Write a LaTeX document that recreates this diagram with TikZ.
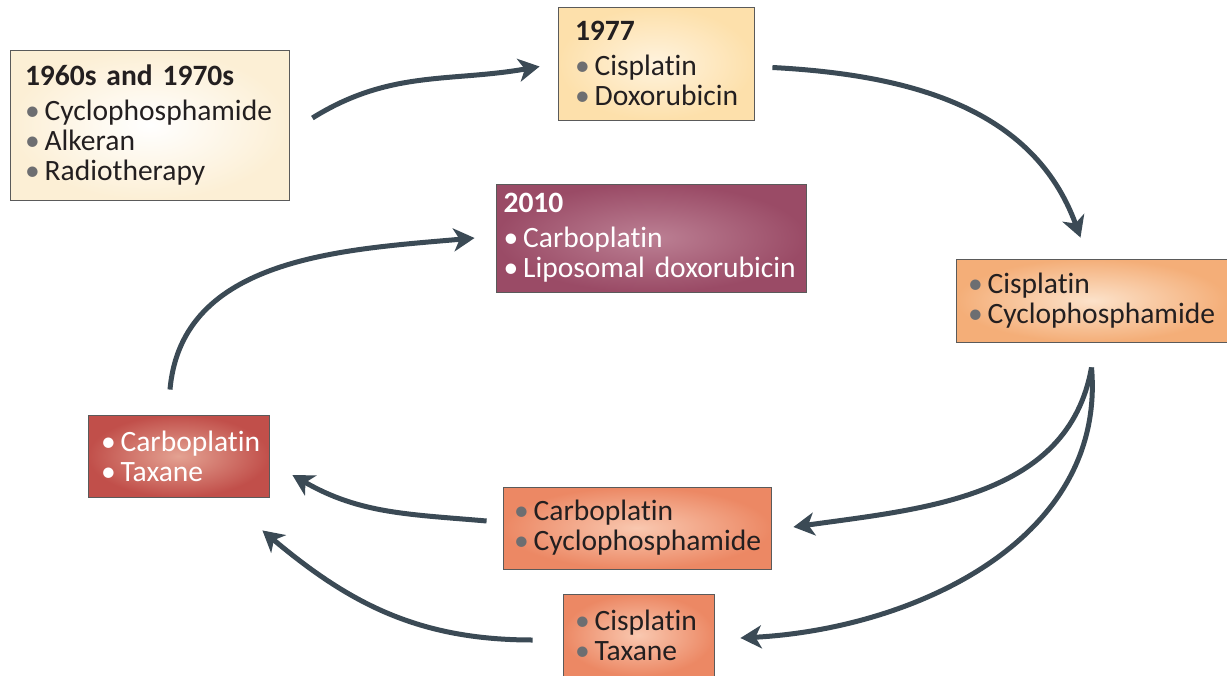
\documentclass[tikz,border=0pt]{standalone}
\usepackage{fontspec}
\setmainfont{Carlito}[Ligatures=NoCommon]
\usepackage{tikz}
\usetikzlibrary{arrows.meta,calc,positioning}

\definecolor{boxline}{HTML}{5A5A5A}
\definecolor{txtdark}{HTML}{231F20}
\definecolor{dotgray}{HTML}{6D6E71}
\definecolor{arrowcol}{HTML}{3B4A55}

\tikzset{
  box/.style={draw=boxline, line width=0.5pt, align=left, inner ysep=0pt,
    font=\fontsize{16.8}{17}\selectfont, text=txtdark},
  flow/.style={draw=arrowcol, line width=0.1cm,
    -{Stealth[length=0.42cm,width=0.46cm,inset=0.12cm]}},
}
\newcommand{\itm}[1]{{\color{dotgray}\textbullet}\,#1}
\newcommand{\itw}[1]{\textbullet\,#1}

\begin{document}
\begin{tikzpicture}[x=0.02cm, y=0.02cm]
    \useasboundingbox (0,0) rectangle (1227,-676);

    % treatment boxes
    \node[box, inner color=white, outer color={rgb,255:red,252;green,239;blue,213},
      text width=4.98cm, inner xsep=0.3cm, minimum height=3cm]
      (early) at (149.5,-125)
      {\textbf{1960s and 1970s}\\[3pt]\itm{Cyclophosphamide}\\\itm{Alkeran}\\\itm{Radiotherapy}};
    \node[box, inner color={rgb,255:red,255;green,243;blue,222}, outer color={rgb,255:red,253;green,224;blue,171},
      text width=3.24cm, inner xsep=0.34cm, minimum height=2.26cm]
      (y1977) at (656,-63.5)
      {\textbf{1977}\\[3pt]\itm{Cisplatin}\\\itm{Doxorubicin}};
    \node[box, text=white, inner color={rgb,255:red,188;green,128;blue,148}, outer color={rgb,255:red,154;green,75;blue,102},
      text width=5.9cm, inner xsep=0.15cm, minimum height=2.16cm]
      (y2010) at (651,-238)
      {\textbf{2010}\\[3pt]\itw{Carboplatin}\\\mbox{\itw{Liposomal doxorubicin}}};
    \node[box, inner color={rgb,255:red,252;green,226;blue,202}, outer color={rgb,255:red,244;green,174;blue,120},
      text width=4.94cm, inner xsep=0.24cm, minimum height=1.66cm]
      (ciscyc) at (1091.5,-300.5)
      {\itm{Cisplatin}\\\itm{Cyclophosphamide}};
    \node[box, inner color={rgb,255:red,249;green,200;blue,176}, outer color={rgb,255:red,236;green,136;blue,100},
      text width=4.92cm, inner xsep=0.22cm, minimum height=1.64cm]
      (carbcyc) at (637,-528)
      {\itm{Carboplatin}\\\itm{Cyclophosphamide}};
    \node[box, inner color={rgb,255:red,249;green,200;blue,176}, outer color={rgb,255:red,236;green,136;blue,100},
      text width=2.54cm, inner xsep=0.24cm, minimum height=1.64cm]
      (cistax) at (638.5,-635)
      {\itm{Cisplatin}\\\itm{Taxane}};
    \node[box, text=white, inner color={rgb,255:red,228;green,162;blue,146}, outer color={rgb,255:red,193;green,79;blue,74},
      text width=3.1cm, inner xsep=0.26cm, minimum height=1.64cm]
      (carbtax) at (178.5,-456)
      {\itw{Carboplatin}\\\itw{Taxane}};

    % arrows
    \draw[flow] ($(early.east)+(23,7)$) to[out=32, in=190] ($(y1977.west)+(-18,-3)$);
    \draw[flow] ($(y1977.east)+(18,-4)$) to[out=-3, in=110] ($(ciscyc.north)+(-11,21)$);
    \draw[flow] ($(ciscyc.south)+(0,-25)$) to[out=-100, in=8] ($(carbcyc.east)+(22,1)$);
    \draw[flow] ($(ciscyc.south)+(0,-25)$) to[out=-85, in=3] ($(cistax.east)+(26,-3)$);
    \draw[flow] ($(carbcyc.west)+(-16,7)$) to[out=175, in=-30] ($(carbtax.east)+(23,-19)$);
    \draw[flow] ($(cistax.west)+(-30,-5)$) to[out=180, in=-40] ($(carbtax.south east)+(-7,-33)$);
    \draw[flow] ($(carbtax.north)+(-8.5,25)$) to[out=85, in=185] ($(y2010.west)+(-21,0)$);

\end{tikzpicture}
\end{document}
